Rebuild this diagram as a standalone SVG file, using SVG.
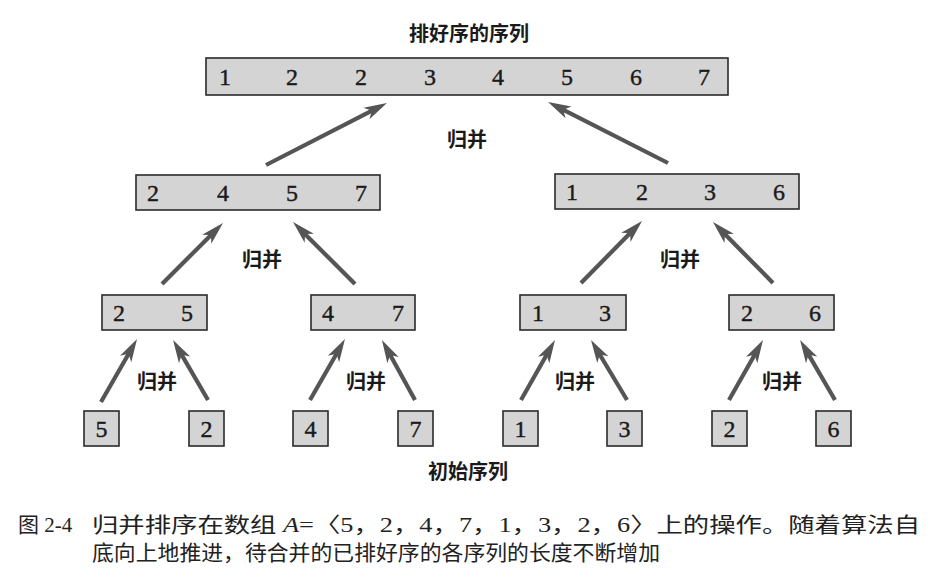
<svg xmlns="http://www.w3.org/2000/svg" width="934" height="583" viewBox="0 0 934 583">
<style>
.box{fill:#d4d4d4;stroke:#2a2a2a;stroke-width:1.6}
.num{font-family:"Liberation Serif",serif;font-size:24px;fill:#1a1a1a;stroke:#1a1a1a;stroke-width:0.4;text-anchor:middle}
.lbl{font-family:"Noto Sans CJK SC",sans-serif;font-size:20px;font-weight:700;fill:#1a1a1a;text-anchor:middle}
.arr{stroke:#555;stroke-width:4.2;fill:none;marker-end:url(#ah)}
.cap{font-family:"Liberation Serif","Noto Sans CJK SC",serif;font-size:21px;fill:#222}
</style>
<defs>
<marker id="ah" markerUnits="userSpaceOnUse" orient="auto" refX="0" refY="0" viewBox="-10 -8 26 16" markerWidth="26" markerHeight="16" overflow="visible">
<path d="M14,0 L-9,-6.5 L-3,0 L-9,6.5 Z" fill="#555"/>
</marker>
</defs>
<rect width="934" height="583" fill="#fff"/>
<text class="lbl" x="469" y="41">排好序的序列</text>
<g id="sorted">
<rect class="box" x="206" y="58" width="522" height="37"/>
<text class="num" x="225" y="85">1</text><text class="num" x="292" y="85">2</text><text class="num" x="361" y="85">2</text><text class="num" x="430" y="85">3</text><text class="num" x="498" y="85">4</text><text class="num" x="567" y="85">5</text><text class="num" x="636" y="85">6</text><text class="num" x="704" y="85">7</text>
</g>
<g id="m2457">
<rect class="box" x="136" y="175" width="244" height="35"/>
<text class="num" x="153" y="201">2</text><text class="num" x="223" y="201">4</text><text class="num" x="292" y="201">5</text><text class="num" x="361" y="201">7</text>
</g>
<g id="m1236">
<rect class="box" x="555" y="174" width="244" height="35"/>
<text class="num" x="572" y="200">1</text><text class="num" x="642" y="200">2</text><text class="num" x="710" y="200">3</text><text class="num" x="779" y="200">6</text>
</g>
<g id="m25"><rect class="box" x="102" y="295" width="105" height="35"/><text class="num" x="119" y="321">2</text><text class="num" x="187" y="321">5</text></g>
<g id="m47"><rect class="box" x="311" y="295" width="104" height="35"/><text class="num" x="328" y="321">4</text><text class="num" x="398" y="321">7</text></g>
<g id="m13"><rect class="box" x="520" y="295" width="106" height="35"/><text class="num" x="538" y="321">1</text><text class="num" x="605" y="321">3</text></g>
<g id="m26"><rect class="box" x="729" y="295" width="105" height="35"/><text class="num" x="747" y="321">2</text><text class="num" x="815" y="321">6</text></g>
<g id="s5"><rect class="box" x="84" y="411" width="35" height="35"/><text class="num" x="101.5" y="437">5</text></g>
<g id="s2a"><rect class="box" x="189" y="411" width="35" height="35"/><text class="num" x="206.5" y="437">2</text></g>
<g id="s4"><rect class="box" x="293" y="411" width="35" height="35"/><text class="num" x="310.5" y="437">4</text></g>
<g id="s7"><rect class="box" x="398" y="411" width="35" height="35"/><text class="num" x="415.5" y="437">7</text></g>
<g id="s1"><rect class="box" x="503" y="411" width="35" height="35"/><text class="num" x="520.5" y="437">1</text></g>
<g id="s3"><rect class="box" x="607" y="411" width="35" height="35"/><text class="num" x="624.5" y="437">3</text></g>
<g id="s2b"><rect class="box" x="712" y="411" width="35" height="35"/><text class="num" x="729.5" y="437">2</text></g>
<g id="s6"><rect class="box" x="816" y="411" width="35" height="35"/><text class="num" x="833.5" y="437">6</text></g>
<g id="connectors">
<line class="arr" x1="266" y1="165" x2="374.5" y2="109.4"/>
<line class="arr" x1="668" y1="163" x2="560.5" y2="108.3"/>
<line class="arr" x1="162" y1="284" x2="213.1" y2="232.9"/>
<line class="arr" x1="355" y1="284" x2="302.9" y2="231.9"/>
<line class="arr" x1="581" y1="283" x2="632.2" y2="231"/>
<line class="arr" x1="773" y1="283" x2="722.8" y2="232"/>
<line class="arr" x1="101" y1="402" x2="130.1" y2="351.2"/>
<line class="arr" x1="208" y1="400" x2="180.1" y2="352.1"/>
<line class="arr" x1="310" y1="400" x2="338" y2="351.2"/>
<line class="arr" x1="415" y1="400" x2="388.7" y2="352.3"/>
<line class="arr" x1="521" y1="400" x2="548.1" y2="352.2"/>
<line class="arr" x1="627" y1="400" x2="598.2" y2="352"/>
<line class="arr" x1="729" y1="400" x2="756.1" y2="352.2"/>
<line class="arr" x1="835" y1="400" x2="807.1" y2="352.1"/>
</g>
<g id="labels">
<text class="lbl" x="467" y="147">归并</text>
<text class="lbl" x="262" y="267">归并</text>
<text class="lbl" x="680" y="267">归并</text>
<text class="lbl" x="157" y="389">归并</text>
<text class="lbl" x="366" y="389">归并</text>
<text class="lbl" x="575" y="389">归并</text>
<text class="lbl" x="782" y="389">归并</text>
<text class="lbl" x="468" y="479">初始序列</text>
</g>
<g id="caption">
<text class="cap" x="18" y="532">图 2-4</text>
<text class="cap" x="92" y="532" textLength="828" lengthAdjust="spacingAndGlyphs">归并排序在数组 <tspan font-style="italic">A</tspan>=〈5，2，4，7，1，3，2，6〉上的操作。随着算法自</text>
<text class="cap" x="92" y="560" textLength="568" lengthAdjust="spacingAndGlyphs">底向上地推进，待合并的已排好序的各序列的长度不断增加</text>
</g>
</svg>
